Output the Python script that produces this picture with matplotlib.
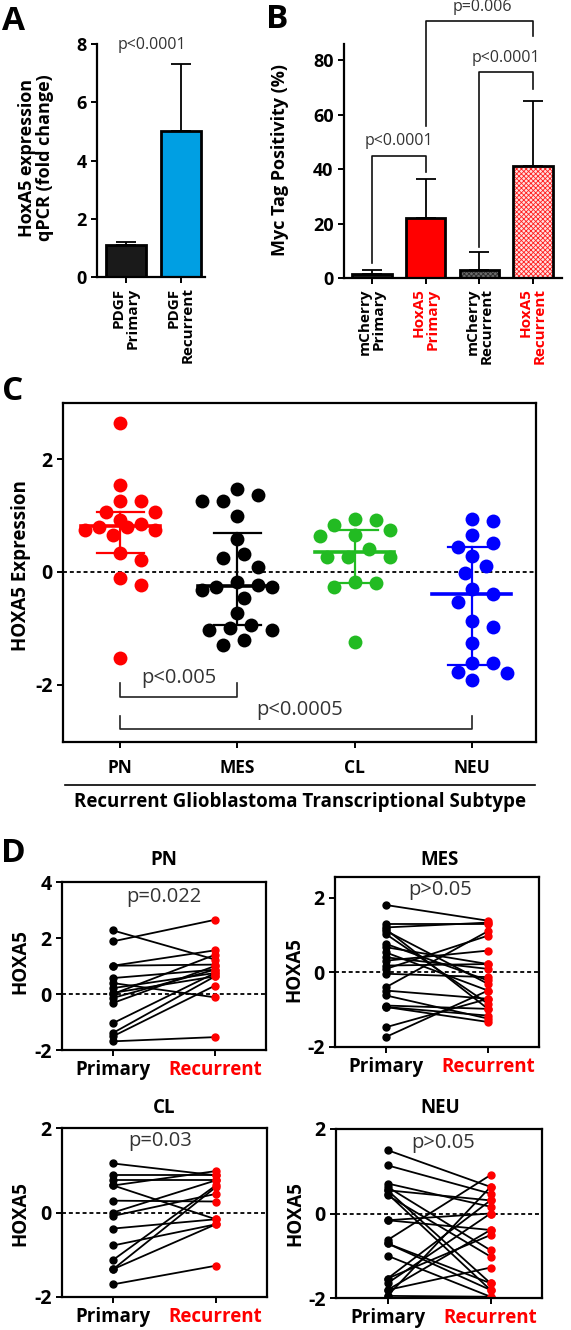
import numpy as np
import matplotlib.pyplot as plt
from matplotlib.lines import Line2D

plt.rcParams['font.family'] = ['Open Sans', 'DejaVu Sans']
plt.rcParams['axes.unicode_minus'] = False
plt.rcParams['hatch.linewidth'] = 0.6

# ---------------- data ----------------
# panel A
a_labels = ['PDGF\nPrimary', 'PDGF\nRecurrent']
a_values = [1.1, 5.03]
a_err_top = [1.2, 7.3]
a_colors = ['#1a1a1a', '#009fe3']

# panel B
b_labels = ['mCherry\nPrimary', 'HoxA5\nPrimary', 'mCherry\nRecurrent', 'HoxA5\nRecurrent']
b_label_colors = ['black', 'red', 'black', 'red']
b_values = [1.6, 22, 2.9, 41]
b_err_top = [2.9, 36.4, 9.5, 65]
b_colors = ['#1a1a1a', '#ff0000', '#6a6a6a', '#ffe0e0']
b_hatch = [None, None, 'xxxxxxx', 'xxxxxxx']
b_hatch_colors = [None, None, '#2a2a2a', '#ff2020']
# brackets: (left bar, right bar, height, left leg end, right leg end, text, text x, text y)
b_brackets = [(0, 1, 45, 5.5, 39, 'p<0.0001', 0.5, 50.5),
              (2, 3, 75.7, 11.4, 69.5, 'p<0.0001', 2.5, 81),
              (1, 3, 94.5, 56, 89, 'p=0.006', 2.05, 99.5)]

# panel C
c_groups = ['PN', 'MES', 'CL', 'NEU']
c_colors = ['#ff0000', '#000000', '#22bb22', '#0000ff']
c_pn = [2.65, 1.55, 1.26, 1.26, 1.07, 1.07, 0.92, 0.85, 0.80, 0.75, 0.75, 0.80,
        0.66, 0.33, 0.22, -0.10, -0.23, -1.53]
c_mes = [1.47, 1.37, 1.26, 1.26, 0.99, 0.58, 0.32, 0.25, 0.09, -0.18, -0.23, -0.26,
         -0.26, -0.32, -0.46, -0.73, -0.94, -1.0, -1.03, -1.03, -1.21, -1.3]
c_cl = [0.94, 0.92, 0.83, 0.74, 0.65, 0.63, 0.40, 0.27, 0.27, 0.27, -0.17, -0.2, -0.27, -1.25]
c_neu = [0.94, 0.91, 0.65, 0.52, 0.45, 0.28, 0.11, -0.02, -0.30, -0.39, -0.53, -0.87,
         -0.98, -1.26, -1.62, -1.62, -1.77, -1.80, -1.92]
c_center = [0.82, -0.25, 0.35, -0.39]
c_low = [0.33, -0.94, -0.2, -1.65]
c_high = [1.07, 0.69, 0.74, 0.45]
# (x0, x1, leg top, bar level, text, text x, text y)
c_brackets = [(0, 1, -1.98, -2.22, 'p<0.005', 0.5, -1.88),
              (0, 3, -2.56, -2.79, 'p<0.0005', 1.53, -2.45)]

# panel D paired values (primary -> recurrent)
d_pn_prim = [2.27, 1.88, 1.01, 1.01, 0.57, 0.39, 0.21, 0.04, 0.0, -0.14, -0.32, -1.04, -1.39, -1.51, -1.69]
d_pn_rec = [1.23, 2.65, 1.56, 1.05, 0.87, -0.12, 0.75, 0.63, 1.40, 0.87, 1.0, 0.75, 0.63, 0.30, -1.54]
d_mes_prim = [1.80, 1.29, 1.2, 1.11, 1.02, 1.15, 0.76, 0.67, 0.53, 0.4, 0.31, 0.18, 0.09, -0.04,
              -0.4, -0.49, -0.62, -0.89, -0.93, -1.47, -1.73, -0.93]
d_mes_rec = [1.38, 1.29, 1.33, -0.31, -0.84, -0.98, -0.22, 0.22, -0.49, 0.09, 0.58, 0.22, 0.98, -0.13,
             1.1, -0.71, -1.24, -0.98, -1.16, -0.71, -0.49, -1.33]
d_cl_prim = [1.16, 0.88, 0.76, 0.64, 0.64, 0.28, 0.0, -0.08, -0.38, -0.78, -1.12, -1.34, -1.34, -1.7]
d_cl_rec = [0.88, 0.88, 0.76, 0.98, -0.16, 0.26, 0.76, 0.44, -0.16, -0.28, 0.64, 0.6, -0.28, -1.26]
d_neu_prim = [1.5, 1.14, 0.71, 0.63, 0.55, 0.47, 0.43, 0.55, -0.16, -0.16, -0.63, -0.71, -0.71,
              -1.0, -1.54, -1.54, -1.65, -1.81, -1.95, -1.81, -1.95]
d_neu_rec = [0.63, 0.47, 0.16, -0.87, -1.65, -1.81, -1.02, 0.31, 0.0, -0.39, 0.91, -1.65, -1.81,
             -1.97, 0.31, -0.51, 0.0, -0.39, -1.97, -1.28, 0.63]
d_panels = [('PN', d_pn_prim, d_pn_rec, 'p=0.022', (-2, 4), [-2, 0, 2, 4]),
            ('MES', d_mes_prim, d_mes_rec, 'p>0.05', (-2, 2.55), [-2, 0, 2]),
            ('CL', d_cl_prim, d_cl_rec, 'p=0.03', (-2, 2), [-2, 0, 2]),
            ('NEU', d_neu_prim, d_neu_rec, 'p>0.05', (-2, 2), [-2, 0, 2])]

# ---------------- figure ----------------
W, H = 571, 1330
fig = plt.figure(figsize=(W / 100, H / 100), dpi=100)


def box(l, t, r, b):
    return fig.add_axes([l / W, 1 - b / H, (r - l) / W, (b - t) / H])


def ftext(x, y, s, **kw):
    kw.setdefault('ha', 'center')
    kw.setdefault('va', 'center')
    return fig.text(x / W, 1 - y / H, s, **kw)


def style(ax, box_all=False, size=12):
    for side in ['left', 'bottom', 'top', 'right']:
        ax.spines[side].set_linewidth(1.6)
    if not box_all:
        ax.spines['top'].set_visible(False)
        ax.spines['right'].set_visible(False)
    ax.tick_params(width=1.4, length=4)
    ax.tick_params(axis='y', labelsize=size)
    for t in ax.get_yticklabels():
        t.set_fontweight('bold')


txt_gray = '#333333'

# ---- A ----
axA = box(97, 44, 205, 277)
xa = np.arange(len(a_values))
axA.bar(xa, a_values, width=0.73, color=a_colors, edgecolor='k', linewidth=2, zorder=2)
axA.errorbar(xa, a_values, yerr=[np.zeros(len(xa)), np.array(a_err_top) - np.array(a_values)],
             fmt='none', ecolor='k', elinewidth=1.3, capsize=7, capthick=1.3, zorder=1)
axA.set_xlim(-0.53, 1.44)
axA.set_ylim(0, 8)
axA.set_yticks([0, 2, 4, 6, 8])
axA.set_xticks(xa, a_labels, rotation=90, fontsize=11, fontweight='bold',
               ha='center', va='top', multialignment='right', linespacing=1.0)
style(axA, size=13)
axA.text(0.47, 7.97, 'p<0.0001', ha='center', va='center', fontsize=11.5, color=txt_gray)
ftext(36, 158, 'HoxA5 expression\nqPCR (fold change)', rotation=90, fontsize=13,
      fontweight='bold', linespacing=1.05)

# ---- B ----
axB = box(344, 44, 562, 278)
xb = np.arange(len(b_values))
for i in range(len(xb)):
    if b_hatch[i]:
        axB.bar(xb[i], b_values[i], width=0.73, color=b_colors[i], edgecolor=b_hatch_colors[i],
                hatch=b_hatch[i], linewidth=0, zorder=2)
        axB.bar(xb[i], b_values[i], width=0.73, fill=False, edgecolor='k', linewidth=2, zorder=3)
    else:
        axB.bar(xb[i], b_values[i], width=0.73, color=b_colors[i], edgecolor='k', linewidth=2, zorder=2)
axB.errorbar(xb, b_values, yerr=[np.zeros(len(xb)), np.array(b_err_top) - np.array(b_values)],
             fmt='none', ecolor='k', elinewidth=1.3, capsize=7, capthick=1.3, zorder=1)
axB.set_xlim(-0.52, 3.54)
axB.set_ylim(0, 86)
axB.set_yticks([0, 20, 40, 60, 80])
axB.set_xticks(xb, b_labels, rotation=90, fontsize=11, fontweight='bold',
               ha='center', va='top', multialignment='right', linespacing=1.0)
for t, c in zip(axB.get_xticklabels(), b_label_colors):
    t.set_color(c)
style(axB, size=13)
for x0, x1, hy, l0, l1, s, tx, ty in b_brackets:
    axB.plot([x0, x0, x1, x1], [l0, hy, hy, l1], color='#111111', lw=1.2, clip_on=False)
    axB.text(tx, ty, s, ha='center', va='center', fontsize=11.5, color=txt_gray, clip_on=False)
ftext(280, 160, 'Myc Tag Positivity (%)', rotation=90, fontsize=13, fontweight='bold')

# ---- C ----
axC = box(63, 403, 536, 742)
axC.set_xlim(-0.49, 3.55)
axC.set_ylim(-3.02, 3.0)
axC.axhline(0, color='k', lw=1.3, ls=(0, (2.2, 1.6)), zorder=0)

ppx = (536 - 63) / (3.55 + 0.49)
ppy = (742 - 403) / 6.02
diam = 14.0


def swarm(vals, max_off=36.0):
    # greedy beeswarm in pixel space, limited width; overlaps allowed when crowded
    placed = []
    offs = []
    step = diam * 0.5
    gap = diam * 1.15
    cands = [0.0]
    k = 1
    while k * step <= max_off:
        cands += [k * step, -k * step]
        k += 1
    for v in vals:
        yv = v * ppy
        best, best_d = 0.0, -1.0
        for c in cands:
            d = min([np.hypot(c - px, yv - py) for px, py in placed] + [1e9])
            if d >= gap:
                best = c
                break
            if d > best_d:
                best, best_d = c, d
        placed.append((best, yv))
        offs.append(best / ppx)
    return np.array(offs)


for i, vals in enumerate([c_pn, c_mes, c_cl, c_neu]):
    offs = swarm(vals)
    axC.scatter(i + offs, vals, s=100, color=c_colors[i], linewidths=0, zorder=2)
    axC.plot([i - 0.34, i + 0.34], [c_center[i]] * 2, color=c_colors[i], lw=2.6, zorder=3)
    axC.plot([i, i], [c_low[i], c_high[i]], color=c_colors[i], lw=1.6, zorder=3)
    for yy in (c_low[i], c_high[i]):
        axC.plot([i - 0.2, i + 0.2], [yy, yy], color=c_colors[i], lw=1.6, zorder=3)

for x0, x1, lt, lb, s, tx, ty in c_brackets:
    axC.plot([x0, x0, x1, x1], [lt, lb, lb, lt], color='#222222', lw=1.2)
    axC.text(tx, ty, s, ha='center', va='center', fontsize=14.5, color=txt_gray)

axC.set_yticks([-2, 0, 2])
axC.set_xticks(range(len(c_groups)), c_groups, fontsize=12.5, fontweight='bold')
style(axC, box_all=True, size=14)
axC.tick_params(axis='x', pad=8)
ftext(21, 566, 'HOXA5 Expression', rotation=90, fontsize=13.5, fontweight='bold')
fig.add_artist(Line2D([65 / W, 535 / W], [1 - 785 / H, 1 - 785 / H], color='k', lw=1.2))
ftext(300, 802, 'Recurrent Glioblastoma Transcriptional Subtype', fontsize=13.5, fontweight='bold')

# ---- D ----
d_boxes = [(62, 882, 266, 1050), (335, 877, 539, 1047), (62, 1128, 267, 1297), (336, 1129, 542, 1298)]
d_title_pos = [(164, 860), (440, 860), (164, 1108), (440, 1108)]
d_p_pos = [(164, 897), (440, 890), (160, 1141), (443, 1143)]
d_ylab_pos = [(20, 962), (294, 969), (20, 1213), (295, 1213)]

for (name, prim, rec, ptxt, ylim, yt), bx, tp, pp, yl in zip(d_panels, d_boxes, d_title_pos, d_p_pos, d_ylab_pos):
    ax = box(*bx)
    ax.axhline(0, color='k', lw=1.3, ls=(0, (2.2, 1.6)), zorder=0)
    for p, r in zip(prim, rec):
        ax.plot([0, 1], [p, r], color='k', lw=1.3, zorder=1)
    ax.plot(np.zeros(len(prim)), prim, 'o', color='k', ms=5, zorder=2)
    ax.plot(np.ones(len(rec)), rec, 'o', color='#ff0000', ms=5, zorder=2)
    ax.set_xlim(-0.5, 1.5)
    ax.set_ylim(*ylim)
    ax.set_yticks(yt)
    ax.set_xticks([0, 1], ['Primary', 'Recurrent'], fontsize=13.5, fontweight='bold')
    ax.get_xticklabels()[1].set_color('#ff0000')
    style(ax, box_all=True, size=14)
    ftext(*tp, name, fontsize=13.5, fontweight='bold')
    ftext(*pp, ptxt, fontsize=14.5, color=txt_gray)
    ftext(*yl, 'HOXA5', rotation=90, fontsize=13.5, fontweight='bold')

# panel letters
for s, (x, y) in zip('ABCD', [(13, 21), (277, 19), (13, 392), (13, 853)]):
    ftext(x, y, s, fontsize=24, fontweight='bold')

fig.savefig('out.png', dpi=100)
